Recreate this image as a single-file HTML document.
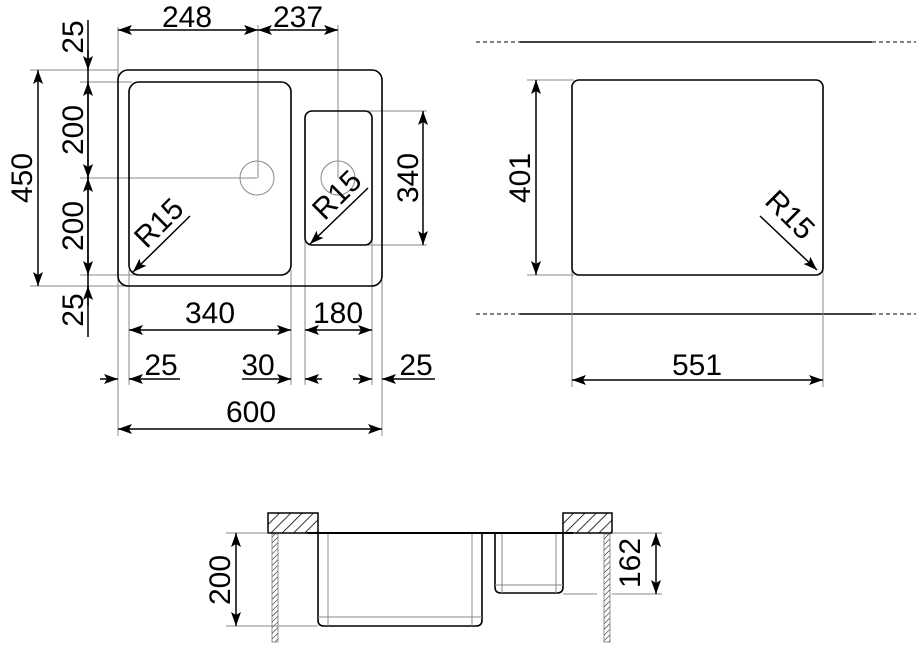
<!DOCTYPE html>
<html><head><meta charset="utf-8"><style>
html,body{margin:0;padding:0;background:#fff}
svg{display:block}
text{font-family:"Liberation Sans",Arial,sans-serif;font-size:30px;fill:#000}
.t{stroke:#888;stroke-width:1;fill:none}
.k{stroke:#000;stroke-width:1.6;fill:none}
.d{stroke:#000;stroke-width:1.5;fill:none}
</style></head><body>
<svg width="920" height="650" viewBox="0 0 920 650" xmlns="http://www.w3.org/2000/svg">
<defs>
<marker id="a" markerWidth="14" markerHeight="10" refX="14" refY="5" orient="auto-start-reverse" markerUnits="userSpaceOnUse">
<path d="M0,0 L14,5 L0,10 L3,5 Z" fill="#000"/></marker>
<pattern id="h" width="8" height="8" patternUnits="userSpaceOnUse" patternTransform="rotate(45)">
<rect width="8" height="8" fill="#fff"/><line x1="0" y1="0" x2="0" y2="8" stroke="#000" stroke-width="1.6"/></pattern>
<pattern id="h2" width="4" height="4" patternUnits="userSpaceOnUse" patternTransform="rotate(45)">
<rect width="4" height="4" fill="#fff"/><line x1="0" y1="0" x2="0" y2="4" stroke="#000" stroke-width="1"/></pattern>
</defs>

<line class="t" x1="118" y1="27" x2="118" y2="436"/>
<line class="t" x1="129" y1="270" x2="129" y2="385"/>
<line class="t" x1="258" y1="25" x2="258" y2="178"/>
<line class="t" x1="338" y1="25" x2="338" y2="178"/>
<line class="t" x1="291" y1="270" x2="291" y2="385"/>
<line class="t" x1="305" y1="240" x2="305" y2="385"/>
<line class="t" x1="372" y1="240" x2="372" y2="385"/>
<line class="t" x1="382" y1="280" x2="382" y2="436"/>
<line class="t" x1="30" y1="70" x2="118" y2="70"/>
<line class="t" x1="80" y1="82" x2="132" y2="82"/>
<line class="t" x1="80" y1="178" x2="257" y2="178"/>
<line class="t" x1="80" y1="275" x2="135" y2="275"/>
<line class="t" x1="30" y1="286" x2="125" y2="286"/>
<line class="t" x1="368" y1="111" x2="427" y2="111"/>
<line class="t" x1="368" y1="245" x2="427" y2="245"/>

<rect class="k" x="118" y="70" width="264" height="216" rx="10"/>
<rect class="k" x="129" y="82" width="162" height="193" rx="10"/>
<rect class="k" x="305" y="111" width="67" height="134" rx="7"/>
<circle class="t" cx="257" cy="178" r="17"/>
<circle class="t" cx="338" cy="178" r="17"/>

<line class="d" x1="118" y1="30" x2="258" y2="30" marker-start="url(#a)" marker-end="url(#a)"/>
<line class="d" x1="258" y1="30" x2="338" y2="30" marker-start="url(#a)" marker-end="url(#a)"/>
<text x="187" y="27" text-anchor="middle">248</text>
<text x="298" y="27" text-anchor="middle">237</text>

<line class="d" x1="88" y1="20" x2="88" y2="337"/>
<line class="d" x1="88" y1="50" x2="88" y2="70" marker-end="url(#a)"/>
<line class="d" x1="88" y1="82" x2="88" y2="178" marker-start="url(#a)" marker-end="url(#a)"/>
<line class="d" x1="88" y1="178" x2="88" y2="275" marker-start="url(#a)" marker-end="url(#a)"/>
<line class="d" x1="88" y1="306" x2="88" y2="286" marker-end="url(#a)"/>
<text transform="translate(83,37) rotate(-90)" text-anchor="middle">25</text>
<text transform="translate(83,130) rotate(-90)" text-anchor="middle">200</text>
<text transform="translate(83,226) rotate(-90)" text-anchor="middle">200</text>
<text transform="translate(83,310) rotate(-90)" text-anchor="middle">25</text>
<line class="d" x1="38" y1="70" x2="38" y2="286" marker-start="url(#a)" marker-end="url(#a)"/>
<text transform="translate(32,178) rotate(-90)" text-anchor="middle">450</text>

<line class="d" x1="423" y1="111" x2="423" y2="245" marker-start="url(#a)" marker-end="url(#a)"/>
<text transform="translate(418,178) rotate(-90)" text-anchor="middle">340</text>

<line class="d" x1="129" y1="330" x2="291" y2="330" marker-start="url(#a)" marker-end="url(#a)"/>
<text x="210" y="323" text-anchor="middle">340</text>
<line class="d" x1="305" y1="330" x2="372" y2="330" marker-start="url(#a)" marker-end="url(#a)"/>
<text x="338" y="323" text-anchor="middle">180</text>

<line class="d" x1="100" y1="379" x2="118" y2="379" marker-end="url(#a)"/>
<line class="d" x1="180" y1="379" x2="129" y2="379" marker-end="url(#a)"/>
<text x="161" y="375" text-anchor="middle">25</text>
<line class="d" x1="242" y1="379" x2="291" y2="379" marker-end="url(#a)"/>
<text x="258" y="375" text-anchor="middle">30</text>
<line class="d" x1="322" y1="379" x2="305" y2="379" marker-end="url(#a)"/>
<line class="d" x1="353" y1="379" x2="372" y2="379" marker-end="url(#a)"/>
<line class="d" x1="435" y1="379" x2="382" y2="379" marker-end="url(#a)"/>
<text x="416" y="375" text-anchor="middle">25</text>

<line class="d" x1="118" y1="429" x2="382" y2="429" marker-start="url(#a)" marker-end="url(#a)"/>
<text x="251" y="422" text-anchor="middle">600</text>

<line class="d" x1="190" y1="216" x2="133" y2="272" marker-end="url(#a)"/>
<text transform="translate(166,230) rotate(-45)" text-anchor="middle">R15</text>
<line class="d" x1="368" y1="188" x2="310" y2="244" marker-end="url(#a)"/>
<text transform="translate(344,202) rotate(-45)" text-anchor="middle">R15</text>

<line x1="476" y1="42" x2="520" y2="42" stroke="#000" stroke-width="1" stroke-dasharray="4,3"/>
<line x1="520" y1="42" x2="872" y2="42" stroke="#000" stroke-width="1.5"/>
<line x1="872" y1="42" x2="916" y2="42" stroke="#000" stroke-width="1" stroke-dasharray="4,3"/>
<line x1="476" y1="314" x2="520" y2="314" stroke="#000" stroke-width="1" stroke-dasharray="4,3"/>
<line x1="520" y1="314" x2="872" y2="314" stroke="#000" stroke-width="1.5"/>
<line x1="872" y1="314" x2="916" y2="314" stroke="#000" stroke-width="1" stroke-dasharray="4,3"/>
<line class="t" x1="527" y1="80" x2="574" y2="80"/>
<line class="t" x1="527" y1="275" x2="574" y2="275"/>
<line class="t" x1="572" y1="270" x2="572" y2="387"/>
<line class="t" x1="823" y1="270" x2="823" y2="387"/>
<rect class="k" x="572" y="80" width="251" height="195" rx="7"/>
<line class="d" x1="536" y1="80" x2="536" y2="275" marker-start="url(#a)" marker-end="url(#a)"/>
<text transform="translate(530,178) rotate(-90)" text-anchor="middle">401</text>
<line class="d" x1="572" y1="380" x2="823" y2="380" marker-start="url(#a)" marker-end="url(#a)"/>
<text x="697" y="375" text-anchor="middle">551</text>
<line class="d" x1="760" y1="216" x2="817" y2="270" marker-end="url(#a)"/>
<text transform="translate(783,222) rotate(45)" text-anchor="middle">R15</text>

<rect x="268" y="513" width="50" height="20" fill="url(#h)" stroke="#000" stroke-width="1.5"/>
<rect x="563" y="513" width="49" height="20" fill="url(#h)" stroke="#000" stroke-width="1.5"/>
<rect x="272" y="534" width="6" height="108" fill="url(#h2)" stroke="#777" stroke-width="0.8"/>
<rect x="604" y="534" width="6" height="108" fill="url(#h2)" stroke="#777" stroke-width="0.8"/>
<line class="t" x1="226" y1="533" x2="268" y2="533"/>
<line class="t" x1="612" y1="533" x2="662" y2="533"/>
<line x1="307" y1="533" x2="573" y2="533" stroke="#000" stroke-width="2"/>
<path class="k" d="M318,534 V620 Q318,626 324,626 H476 Q482,626 482,620 V534"/>
<line class="t" x1="328" y1="534" x2="328" y2="626"/>
<line class="t" x1="472" y1="534" x2="472" y2="626"/>
<line class="t" x1="318" y1="617" x2="482" y2="617"/>
<path class="k" d="M495,534 V587 Q495,593 501,593 H557 Q563,593 563,587 V534"/>
<line class="t" x1="502" y1="534" x2="502" y2="593"/>
<line class="t" x1="556" y1="534" x2="556" y2="593"/>
<line class="t" x1="495" y1="585" x2="563" y2="585"/>
<line class="t" x1="226" y1="626" x2="318" y2="626"/>
<line class="t" x1="563" y1="594" x2="597" y2="594"/>
<line class="t" x1="612" y1="594" x2="662" y2="594"/>
<line class="d" x1="236" y1="533" x2="236" y2="626" marker-start="url(#a)" marker-end="url(#a)"/>
<text transform="translate(230,580) rotate(-90)" text-anchor="middle">200</text>
<line class="d" x1="656" y1="533" x2="656" y2="594" marker-start="url(#a)" marker-end="url(#a)"/>
<text transform="translate(640,563) rotate(-90)" text-anchor="middle">162</text>
</svg>
</body></html>
